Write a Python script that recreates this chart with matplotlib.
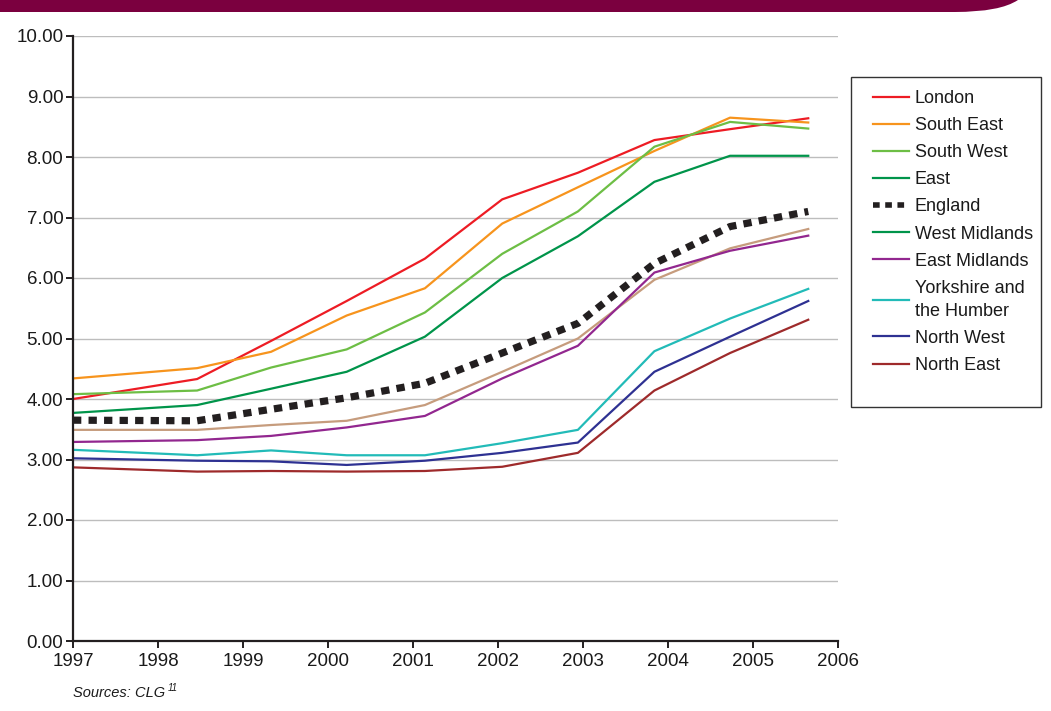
import numpy as np
import matplotlib.pyplot as plt
from matplotlib.lines import Line2D
from matplotlib.patches import PathPatch, Rectangle
from matplotlib.path import Path

plt.rcParams['font.family'] = ['Liberation Sans', 'DejaVu Sans']

# survey points (fractional years)
years = [1997.0, 1998.46, 1999.33, 2000.22, 2001.14, 2002.05, 2002.94, 2003.84, 2004.73, 2005.65]

london          = [4.00, 4.33, 4.96, 5.62, 6.32, 7.30, 7.74, 8.28, 8.46, 8.64]
south_east      = [4.34, 4.51, 4.78, 5.38, 5.83, 6.90, 7.50, 8.10, 8.65, 8.57]
south_west      = [4.08, 4.14, 4.52, 4.82, 5.43, 6.40, 7.10, 8.17, 8.58, 8.47]
east            = [3.77, 3.90, 4.17, 4.45, 5.03, 6.00, 6.69, 7.59, 8.02, 8.02]
england         = [3.65, 3.64, 3.83, 4.02, 4.26, 4.76, 5.25, 6.24, 6.85, 7.10]
west_midlands   = [3.49, 3.49, 3.57, 3.64, 3.90, 4.45, 5.00, 5.97, 6.49, 6.81]
east_midlands   = [3.29, 3.32, 3.39, 3.53, 3.72, 4.34, 4.88, 6.09, 6.45, 6.70]
yorkshire       = [3.16, 3.07, 3.15, 3.07, 3.07, 3.27, 3.49, 4.79, 5.33, 5.82]
north_west      = [3.02, 2.98, 2.97, 2.91, 2.98, 3.11, 3.28, 4.45, 5.03, 5.62]
north_east      = [2.87, 2.80, 2.81, 2.80, 2.81, 2.88, 3.11, 4.14, 4.76, 5.31]

xticks = list(range(1997, 2007))
yticks = np.arange(0, 10.01, 1.0)

RED = '#ED1C24'
ORANGE = '#F7941D'
LGREEN = '#6DBE45'
GREEN = '#00944A'
TAN = '#C69C7D'
PURPLE = '#92278F'
CYAN = '#22BBB8'
NAVY = '#2E3192'
MAROON = '#9E2A2B'
DOTS = '#231F20'
INK = '#1A1A1A'

fig = plt.figure(figsize=(10.51, 7.11), dpi=100)

# header band with rounded right end
W, H = 1051.0, 711.0
verts = [(0, 1.05), (0, 1 - 12 / H), (955 / W, 1 - 12 / H),
         (1000 / W, 1 - 12 / H), (1018 / W, 1.0), (1018 / W, 1.05), (0, 1.05)]
codes = [Path.MOVETO, Path.LINETO, Path.LINETO, Path.CURVE3, Path.CURVE3,
         Path.LINETO, Path.CLOSEPOLY]
fig.patches.append(PathPatch(Path(verts, codes), transform=fig.transFigure,
                             facecolor='#7B003F', edgecolor='none'))

ax = fig.add_axes([73 / W, 70 / H, 765 / W, 605 / H])

lw = 1.6
ax.plot(years, london, color=RED, lw=lw)
ax.plot(years, south_east, color=ORANGE, lw=lw)
ax.plot(years, south_west, color=LGREEN, lw=lw)
ax.plot(years, east, color=GREEN, lw=lw)
ax.plot(years, west_midlands, color=TAN, lw=lw)
ax.plot(years, east_midlands, color=PURPLE, lw=lw)
ax.plot(years, yorkshire, color=CYAN, lw=lw)
ax.plot(years, north_west, color=NAVY, lw=lw)
ax.plot(years, north_east, color=MAROON, lw=lw)
ax.plot(years, england, color=DOTS, lw=5.2, linestyle=(0, (1.15, 1.0)),
        solid_capstyle='butt', dash_capstyle='butt')

ax.set_xlim(1997, 2006)
ax.set_ylim(0, 10)
ax.set_xticks(xticks)
ax.set_yticks(yticks)
ax.set_yticklabels(['%.2f' % v for v in yticks])
ax.yaxis.grid(True, color='#BDBDBD', lw=1)
ax.set_axisbelow(True)
for s in ['top', 'right']:
    ax.spines[s].set_visible(False)
for s in ['left', 'bottom']:
    ax.spines[s].set_linewidth(1.6)
    ax.spines[s].set_color('#231F20')
ax.tick_params(axis='both', direction='out', length=5, width=1.4,
               color='#231F20', labelsize=13.5, labelcolor=INK, pad=2)
ax.tick_params(axis='x', pad=4)

# legend box
fig.patches.append(Rectangle((851 / W, 1 - 407 / H), 190 / W, 330 / H,
                             transform=fig.transFigure, facecolor='white',
                             edgecolor='#333333', lw=1))
handles = [
    Line2D([], [], color=RED, lw=lw),
    Line2D([], [], color=ORANGE, lw=lw),
    Line2D([], [], color=LGREEN, lw=lw),
    Line2D([], [], color=GREEN, lw=lw),
    Line2D([], [], color=DOTS, lw=4, linestyle=(0, (1.2, 1.0))),
    Line2D([], [], color=GREEN, lw=lw),
    Line2D([], [], color=PURPLE, lw=lw),
    Line2D([], [], color=CYAN, lw=lw),
    Line2D([], [], color=NAVY, lw=lw),
    Line2D([], [], color=MAROON, lw=lw),
]
labels = ['London', 'South East', 'South West', 'East', 'England',
          'West Midlands', 'East Midlands', 'Yorkshire and\nthe Humber',
          'North West', 'North East']
leg = fig.legend(handles, labels, loc='upper left',
                 bbox_to_anchor=(864 / W, 1 - 81 / H), frameon=False,
                 fontsize=13, handlelength=2.0, handletextpad=0.3,
                 labelspacing=0.56, borderpad=0)
for t in leg.get_texts():
    t.set_color(INK)
    t.set_linespacing(1.45)

src = fig.text(73 / W, 1 - 697 / H, 'Sources: CLG', fontsize=10.5,
               style='italic', va='baseline', color=INK)
fig.canvas.draw()
bb = src.get_window_extent()
fig.text((bb.x1 + 3) / W, 1 - 691 / H, '11', fontsize=7, style='italic',
         va='baseline', color=INK)

fig.savefig('out.png', dpi=100)
